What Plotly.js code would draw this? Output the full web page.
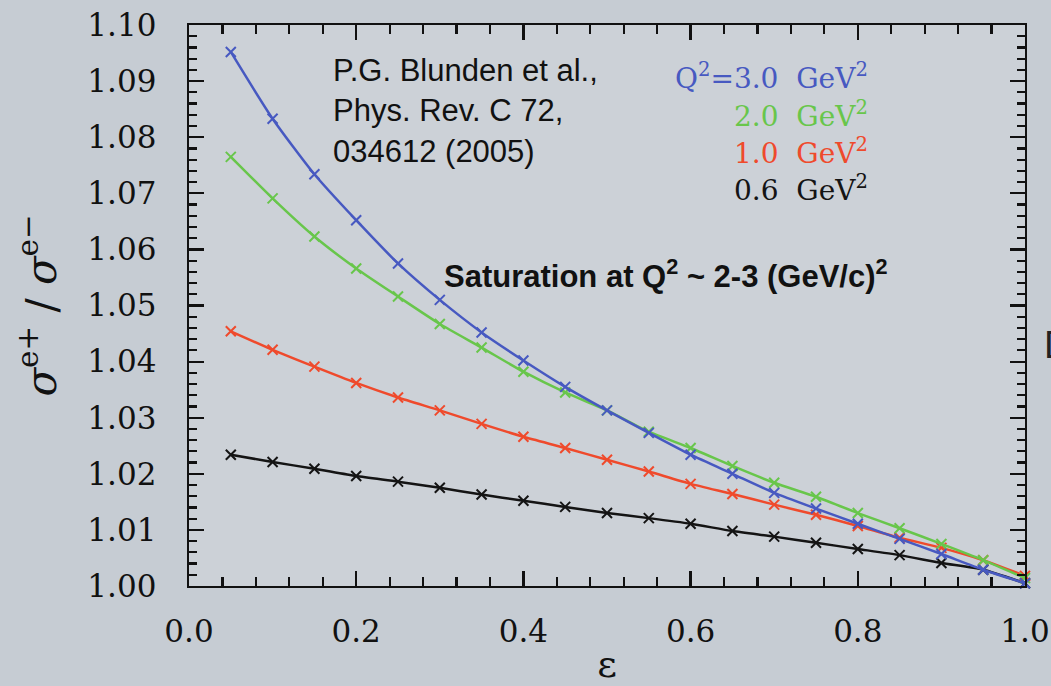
<!DOCTYPE html>
<html>
<head>
<meta charset="utf-8">
<script src="https://cdn.plot.ly/plotly-3.0.1.min.js"></script>
<style>html,body{margin:0;padding:0;background:#c6ccd3;}#chart{width:1051px;height:686px;}</style>
</head>
<body>
<div id="chart"></div>
<script>
const epsilon = [0.05,0.10,0.15,0.20,0.25,0.30,0.35,0.40,0.45,0.50,0.55,0.60,0.65,0.70,0.75,0.80,0.85,0.90,0.95,1.00];
const ratioQ3_0 = [1.0952,1.0833,1.0734,1.0652,1.0575,1.0510,1.0452,1.0402,1.0355,1.0313,1.0273,1.0234,1.0200,1.0166,1.0138,1.0111,1.0084,1.0057,1.0029,1.0005];
const ratioQ2_0 = [1.0765,1.0691,1.0623,1.0566,1.0516,1.0467,1.0425,1.0382,1.0345,1.0313,1.0275,1.0246,1.0214,1.0184,1.0159,1.0130,1.0103,1.0075,1.0046,1.0014];
const ratioQ1_0 = [1.0454,1.0421,1.0391,1.0362,1.0336,1.0313,1.0289,1.0266,1.0246,1.0225,1.0204,1.0182,1.0164,1.0145,1.0127,1.0107,1.0086,1.0068,1.0046,1.0018];
const ratioQ0_6 = [1.0234,1.0221,1.0209,1.0196,1.0186,1.0175,1.0163,1.0152,1.0141,1.0130,1.0121,1.0111,1.0098,1.0088,1.0077,1.0066,1.0055,1.0041,1.0029,1.0005];
const seriesNames = ["Q²=0.6 GeV²","Q²=1.0 GeV²","Q²=2.0 GeV²","Q²=3.0 GeV²"];
const legendLabels = ["0.6  GeV<sup>2</sup>","1.0  GeV<sup>2</sup>","2.0  GeV<sup>2</sup>","Q<sup>2</sup>=3.0  GeV<sup>2</sup>"];
const yTickVals = [1.00,1.01,1.02,1.03,1.04,1.05,1.06,1.07,1.08,1.09,1.10];
const yTickText = ["1.00","1.01","1.02","1.03","1.04","1.05","1.06","1.07","1.08","1.09","1.10"];
const xTickVals = [0.0,0.2,0.4,0.6,0.8,1.0];
const xTickText = ["0.0","0.2","0.4","0.6","0.8","1.0"];

const colors = ["#141414","#ef4a2c","#68c64b","#4759c1"];
const ys = [ratioQ0_6, ratioQ1_0, ratioQ2_0, ratioQ3_0];

const traces = ys.map((y,i)=>({
  x: epsilon, y: y, name: seriesNames[i], type:'scatter', mode:'lines+markers',
  line:{color:colors[i], width:2.5, shape:'spline', smoothing:0.6},
  marker:{symbol:'x-thin', size:10, line:{color:colors[i], width:2}},
  showlegend:false, cliponaxis:false
}));

const serif = "DejaVu Serif";
const legendY = [1.0708, 1.0774, 1.0841, 1.0908];
const annotations = legendLabels.map((t,i)=>({
  xref:'x', yref:'y', x:0.814, y:legendY[i], text:t, showarrow:false,
  xanchor:'right', yanchor:'middle', font:{family:serif, size:28, color:colors[i]}
})).concat([
  {xref:'x', yref:'y', x:0.170, y:1.0954, xanchor:'left', yanchor:'top', align:'left', showarrow:false,
   text:'P.G. Blunden et al.,<br>Phys. Rev. C 72,<br>034612 (2005)',
   font:{family:'Liberation Sans, Arial', size:31, color:'#111'}},
  {xref:'x', yref:'y', x:0.303, y:1.0557, xanchor:'left', yanchor:'middle', showarrow:false,
   text:'<b>Saturation at Q<sup>2</sup> ~ 2-3 (GeV/c)<sup>2</sup></b>',
   font:{family:'Liberation Sans, Arial', size:31, color:'#111'}},
  {xref:'paper', yref:'paper', x:1.02, y:0.43, xanchor:'left', yanchor:'middle', showarrow:false,
   text:'D', font:{family:'Liberation Sans, Arial', size:38, color:'#222'}}
]);

const axisCommon = {
  showline:true, linecolor:'#111', linewidth:2.4, mirror:'allticks',
  ticks:'inside', tickcolor:'#111', tickwidth:2.2, ticklen:15,
  showgrid:false, zeroline:false,
  tickfont:{family:serif, size:31, color:'#111'}
};

const layout = {
  width:1051, height:686,
  margin:{l:189, r:26, t:25, b:100},
  paper_bgcolor:'#c6ccd3', plot_bgcolor:'#ccd1d7',
  xaxis: Object.assign({}, axisCommon, {
    range:[0,1.0], tickmode:'array', tickvals:xTickVals, ticktext:xTickText,
    minor:{ticks:'inside', dtick:0.04, tick0:0, ticklen:9, tickwidth:2.2, tickcolor:'#111'},
    ticklabelstandoff:16,
    title:{text:'ε', font:{family:serif, size:38, color:'#111'}, standoff:17}
  }),
  yaxis: Object.assign({}, axisCommon, {
    range:[1.0,1.1], tickmode:'array', tickvals:yTickVals, ticktext:yTickText,
    minor:{ticks:'inside', dtick:0.002, tick0:1.0, ticklen:8, tickwidth:2.2, tickcolor:'#111'},
    ticklabelstandoff:24,
    title:{text:'<i>σ</i><sup>e+</sup> / <i>σ</i><sup>e−</sup>', font:{family:serif, size:42, color:'#111'}, standoff:18}
  }),
  annotations: annotations
};

Plotly.newPlot('chart', traces, layout, {displayModeBar:false, staticPlot:true});
</script>
</body>
</html>
